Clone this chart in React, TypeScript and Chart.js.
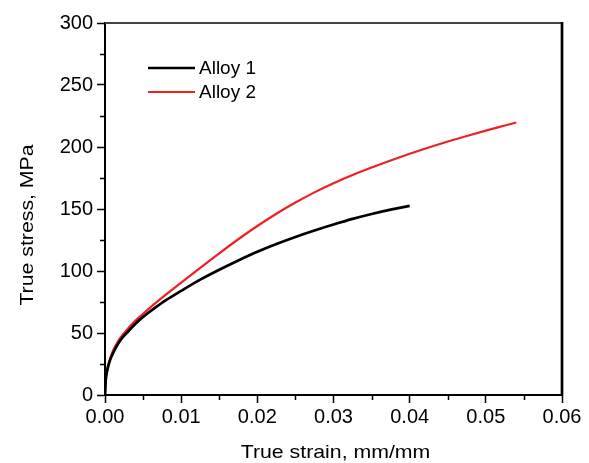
import React, { useEffect, useRef } from "react";
import { Chart, registerables } from "chart.js";

Chart.register(...registerables);

const alloy1Strain = [0, 0.0001, 0.0003, 0.0006, 0.001, 0.0015, 0.002, 0.003, 0.004, 0.005, 0.0065, 0.008, 0.01, 0.0125, 0.015, 0.0175, 0.02, 0.0225, 0.025, 0.0275, 0.03, 0.0325, 0.035, 0.0375, 0.04];
const alloy1Stress = [0, 12, 20, 27, 33, 39, 44, 51, 57.5, 63, 70, 76.5, 84, 93, 101, 108.5, 115.5, 121.8, 127.5, 132.7, 137.5, 142, 146, 149.5, 152.5];

const alloy2Strain = [0, 0.0001, 0.0003, 0.0006, 0.001, 0.0015, 0.002, 0.003, 0.004, 0.005, 0.0065, 0.008, 0.01, 0.0125, 0.015, 0.0175, 0.02, 0.0225, 0.025, 0.0275, 0.03, 0.0325, 0.035, 0.0375, 0.04, 0.0425, 0.045, 0.0475, 0.05, 0.0525, 0.054];
const alloy2Stress = [0, 12, 21, 28, 35, 41, 46, 53.5, 60, 65.5, 73.5, 81, 90.7, 102.6, 114.3, 125.6, 136.3, 146.2, 155.2, 163.4, 170.8, 177.4, 183.4, 189.1, 194.5, 199.6, 204.4, 208.9, 213.2, 217.3, 219.8];

const seriesNames = ["Alloy 1", "Alloy 2"];
const xMinorTicks = [0.005, 0.015, 0.025, 0.035, 0.045, 0.055];
const yMinorTicks = [25, 75, 125, 175, 225, 275];
const xTitle = "True strain, mm/mm";
const yTitle = "True stress, MPa";

const FONT = "'Liberation Sans', Arial, Helvetica, sans-serif";

const framePlugin = {
  id: "frame",
  afterDraw(chart: any) {
    const { ctx, chartArea } = chart;
    const { left, right, top, bottom } = chartArea;
    const xs = chart.scales.x;
    const ys = chart.scales.y;
    ctx.save();
    // top and right borders
    ctx.strokeStyle = "#444";
    ctx.lineWidth = 2;
    ctx.beginPath();
    ctx.moveTo(left, top);
    ctx.lineTo(right, top);
    ctx.stroke();
    ctx.strokeStyle = "#000";
    ctx.lineWidth = 2.7;
    ctx.beginPath();
    ctx.moveTo(right, top - 1);
    ctx.lineTo(right, bottom + 1);
    ctx.stroke();
    // minor ticks
    ctx.lineWidth = 1.5;
    ctx.strokeStyle = "#000";
    ctx.beginPath();
    for (const v of xMinorTicks) {
      const px = Math.round(xs.getPixelForValue(v)) + 0.5;
      ctx.moveTo(px, bottom);
      ctx.lineTo(px, bottom + 5);
    }
    for (const v of yMinorTicks) {
      const py = Math.round(ys.getPixelForValue(v)) + 0.5;
      ctx.moveTo(left, py);
      ctx.lineTo(left - 5, py);
    }
    ctx.stroke();
    // axis titles
    ctx.fillStyle = "#000";
    ctx.font = `19px ${FONT}`;
    ctx.textAlign = "center";
    ctx.textBaseline = "alphabetic";
    ctx.save();
    ctx.translate((left + right) / 2 + 2, 458);
    ctx.scale(1.12, 1);
    ctx.fillText(xTitle, 0, 0);
    ctx.restore();
    ctx.save();
    ctx.translate(33, 225);
    ctx.rotate(-Math.PI / 2);
    ctx.scale(1.12, 1);
    ctx.fillText(yTitle, 0, 0);
    ctx.restore();
    // legend
    const ly = [68, 92];
    chart.data.datasets.forEach((ds: any, i: number) => {
      ctx.strokeStyle = ds.borderColor;
      ctx.lineWidth = ds.borderWidth;
      ctx.beginPath();
      ctx.moveTo(148, ly[i]);
      ctx.lineTo(195, ly[i]);
      ctx.stroke();
      ctx.fillStyle = "#000";
      ctx.font = `19px ${FONT}`;
      ctx.textAlign = "left";
      ctx.textBaseline = "middle";
      ctx.fillText(ds.label, 199, ly[i] + 1);
    });
    ctx.restore();
  },
};

export default function App() {
  const ref = useRef<HTMLCanvasElement>(null);
  useEffect(() => {
    if (!ref.current) return;
    const chart = new Chart(ref.current, {
      type: "line",
      data: {
        datasets: [
          {
            label: seriesNames[0],
            data: alloy1Strain.map((x, i) => ({ x, y: alloy1Stress[i] })),
            borderColor: "#000000",
            borderWidth: 2.7,
            pointRadius: 0,
            cubicInterpolationMode: "monotone",
            fill: false,
          },
          {
            label: seriesNames[1],
            data: alloy2Strain.map((x, i) => ({ x, y: alloy2Stress[i] })),
            borderColor: "rgb(237,32,36)",
            borderWidth: 2.2,
            pointRadius: 0,
            cubicInterpolationMode: "monotone",
            fill: false,
          },
        ],
      },
      options: {
        animation: false,
        responsive: false,
        layout: { padding: { top: 23, right: 27, left: 0, bottom: 0 } },
        plugins: { legend: { display: false }, tooltip: { enabled: false } },
        scales: {
          x: {
            type: "linear",
            min: 0,
            max: 0.06,
            afterFit: (s: any) => {
              s.height = 68;
            },
            ticks: {
              stepSize: 0.01,
              autoSkip: false,
              maxRotation: 0,
              padding: 2,
              color: "#000",
              font: { size: 20, family: FONT },
              callback: (v: any) => Number(v).toFixed(2),
            },
            grid: {
              drawOnChartArea: false,
              drawTicks: true,
              tickLength: 8,
              tickWidth: 1.5,
              tickColor: "#000",
            },
            border: { display: true, color: "#000", width: 2 },
          },
          y: {
            type: "linear",
            min: 0,
            max: 300,
            afterFit: (s: any) => {
              s.width = 105;
            },
            ticks: {
              stepSize: 50,
              autoSkip: false,
              padding: 4,
              color: "#000",
              font: { size: 20, family: FONT },
            },
            grid: {
              drawOnChartArea: false,
              drawTicks: true,
              tickLength: 8,
              tickWidth: 1.5,
              tickColor: "#000",
            },
            border: { display: true, color: "#000", width: 2 },
          },
        },
      },
      plugins: [framePlugin],
    } as any);
    return () => chart.destroy();
  }, []);
  return (
    <div style={{ position: "absolute", left: 0, top: 0, width: 589, height: 463, background: "#fff" }}>
      <canvas ref={ref} width={589} height={463} style={{ display: "block" }} />
    </div>
  );
}
